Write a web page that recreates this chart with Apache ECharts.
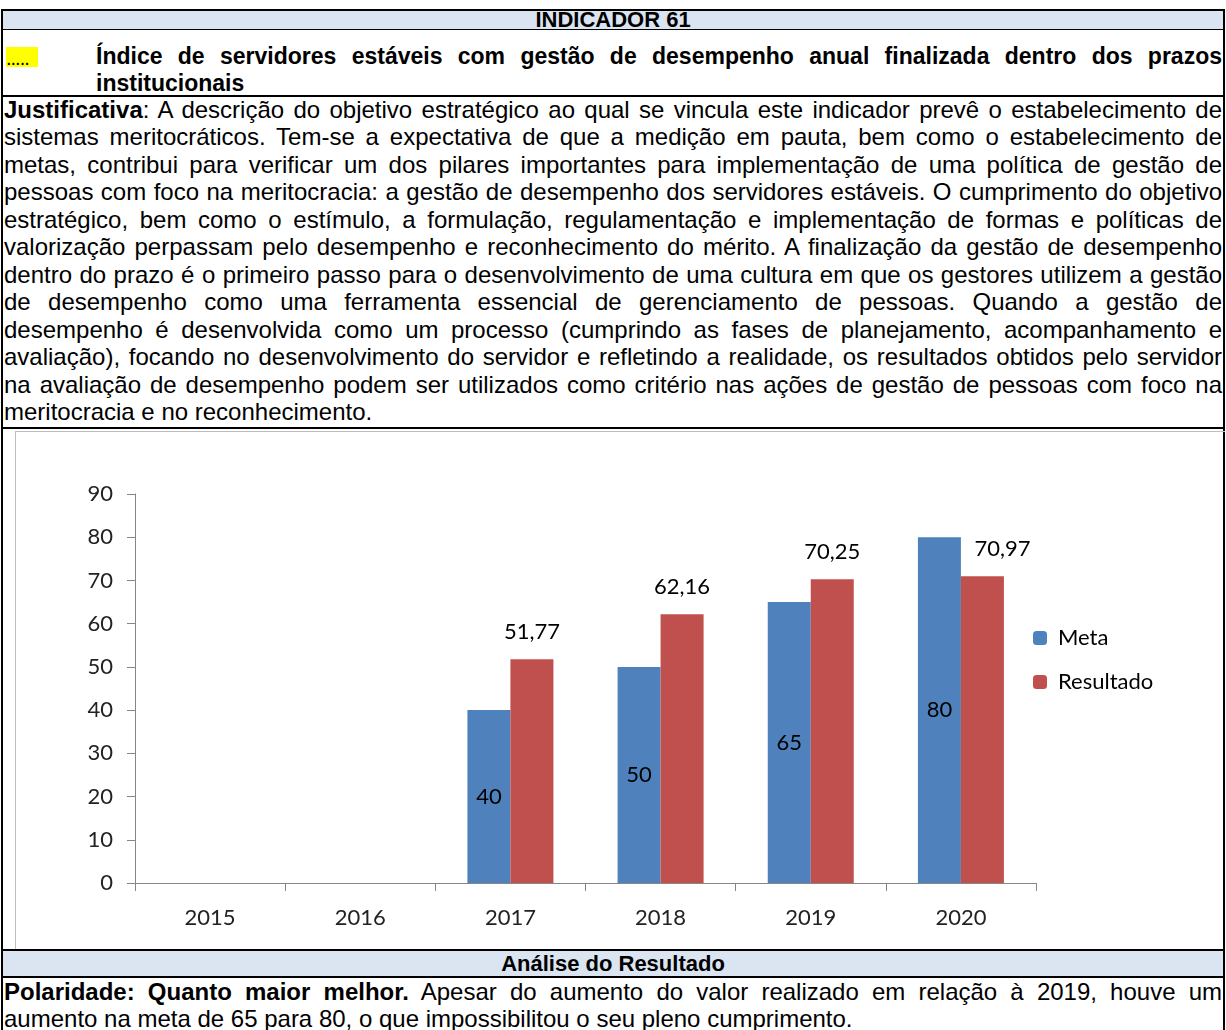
<!DOCTYPE html>
<html>
<head>
<meta charset="utf-8">
<script src="https://cdn.jsdelivr.net/npm/echarts@6/dist/echarts.min.js"></script>
<style>
  body { margin: 0; background: #fff; font-family: "Liberation Sans", Arial, sans-serif; color: #000; }
  #page { position: relative; width: 1226px; height: 1030px; overflow: hidden; }
  .abs { position: absolute; }
  .hl { position: absolute; left: 1px; width: 1224px; background: #000; }
  .band { position: absolute; left: 3px; width: 1220px; background: #dbe5f1; font-weight: bold; font-size: 22px; text-align: center; }
  .txt { position: absolute; left: 4px; width: 1218px; font-size: 24px; line-height: 27.45px; }
  .ln { white-space: nowrap; text-align: justify; text-align-last: justify; }
  .ln.last { text-align-last: left; }
  #chart { position: absolute; left: 15px; top: 431px; width: 1209px; height: 517px; border-left: 1px solid #bfbfbf; border-top: 1px solid #bfbfbf; border-bottom: 1px solid #bfbfbf; }
</style>
</head>
<body>
<div id="page">
  <!-- moldura da tabela -->
  <div class="abs" style="left:1px;top:9px;width:2px;height:1030px;background:#000"></div>
  <div class="abs" style="left:1223px;top:9px;width:2px;height:1030px;background:#000"></div>
  <div class="hl" style="top:9px;height:2px"></div>

  <div class="band" style="top:11px;height:18px;line-height:18px">INDICADOR 61</div>
  <div class="hl" style="top:29px;height:1px"></div>

  <div class="abs" style="left:6px;top:47px;width:32px;height:20px;background:#ffff00;font-size:20px;line-height:22px;letter-spacing:-1px">.....</div>
  <div class="txt" style="top:43px;left:96px;width:1126px;font-weight:bold;font-size:23px;">
    <div class="ln">Índice de servidores estáveis com gestão de desempenho anual finalizada dentro dos prazos</div>
    <div class="ln last">institucionais</div>
  </div>
  <div class="hl" style="top:95px;height:2px"></div>

  <div class="txt" style="top:96px">
    <div class="ln"><b>Justificativa</b>: A descrição do objetivo estratégico ao qual se vincula este indicador prevê o estabelecimento de</div>
    <div class="ln">sistemas meritocráticos. Tem-se a expectativa de que a medição em pauta, bem como o estabelecimento de</div>
    <div class="ln">metas, contribui para verificar um dos pilares importantes para implementação de uma política de gestão de</div>
    <div class="ln">pessoas com foco na meritocracia: a gestão de desempenho dos servidores estáveis. O cumprimento do objetivo</div>
    <div class="ln">estratégico, bem como o estímulo, a formulação, regulamentação e implementação de formas e políticas de</div>
    <div class="ln">valorização perpassam pelo desempenho e reconhecimento do mérito. A finalização da gestão de desempenho</div>
    <div class="ln">dentro do prazo é o primeiro passo para o desenvolvimento de uma cultura em que os gestores utilizem a gestão</div>
    <div class="ln">de desempenho como uma ferramenta essencial de gerenciamento de pessoas. Quando a gestão de</div>
    <div class="ln">desempenho é desenvolvida como um processo (cumprindo as fases de planejamento, acompanhamento e</div>
    <div class="ln">avaliação), focando no desenvolvimento do servidor e refletindo a realidade, os resultados obtidos pelo servidor</div>
    <div class="ln">na avaliação de desempenho podem ser utilizados como critério nas ações de gestão de pessoas com foco na</div>
    <div class="ln last">meritocracia e no reconhecimento.</div>
  </div>
  <div class="hl" style="top:427px;height:2px"></div>

  <div id="chart"></div>
  <div class="hl" style="top:949px;height:2px"></div>

  <div class="band" style="top:951px;height:25px;line-height:25px">Análise do Resultado</div>
  <div class="hl" style="top:976px;height:2px"></div>

  <div class="txt" style="top:978px">
    <div class="ln"><b>Polaridade: Quanto maior melhor.</b> Apesar do aumento do valor realizado em relação à 2019, houve um</div>
    <div class="ln last">aumento na meta de 65 para 80, o que impossibilitou o seu pleno cumprimento.</div>
  </div>
</div>

<script>
var anos = ["2015", "2016", "2017", "2018", "2019", "2020"];
var meta = [null, null, 40, 50, 65, 80];
var resultado = [null, null, 51.77, 62.16, 70.25, 70.97];
var eixoMax = 90;
var eixoPasso = 10;

function virgula(p) {
  return String(p.value).replace(".", ",");
}

var grafico = echarts.init(document.getElementById("chart"));

var rotulo = { fontFamily: "Lato", fontSize: 22, color: "#000" };

var option = {
  animation: false,
  grid: { left: 119, top: 62, width: 901, height: 389 },
  legend: {
    orient: "vertical",
    left: 1012,
    top: 190,
    itemWidth: 14,
    itemHeight: 14,
    itemGap: 22,
    textStyle: { fontFamily: "Lato", fontSize: 22, color: "#000", padding: [0, 0, 0, 6] },
    data: ["Meta", "Resultado"]
  },
  xAxis: {
    type: "category",
    data: anos,
    axisLine: { lineStyle: { color: "#868686", width: 1 } },
    axisTick: { show: true, length: 8, lineStyle: { color: "#868686" } },
    axisLabel: { margin: 24, fontFamily: "Lato", fontSize: 22, color: "#222" }
  },
  yAxis: {
    type: "value",
    min: 0,
    max: eixoMax,
    interval: eixoPasso,
    axisLine: { show: true, lineStyle: { color: "#868686", width: 1 } },
    axisTick: { show: true, length: 8, lineStyle: { color: "#868686" } },
    axisLabel: { margin: 22, fontFamily: "Lato", fontSize: 22, color: "#222" },
    splitLine: { show: false }
  },
  series: [
    {
      name: "Meta",
      type: "bar",
      barWidth: 43,
      barGap: "0%",
      itemStyle: { color: "#4f81bd" },
      label: Object.assign({ show: true, position: "inside", formatter: virgula }, rotulo),
      data: meta
    },
    {
      name: "Resultado",
      type: "bar",
      barWidth: 43,
      itemStyle: { color: "#c0504d" },
      label: Object.assign({ show: true, position: "top", distance: 16, formatter: virgula }, rotulo),
      data: resultado.map(function(v, i) {
        // o último rótulo foi deslocado à direita no original
        return i === resultado.length - 1 ? { value: v, label: { offset: [20, 0] } } : v;
      })
    }
  ]
};

grafico.setOption(option);
</script>
</body>
</html>
